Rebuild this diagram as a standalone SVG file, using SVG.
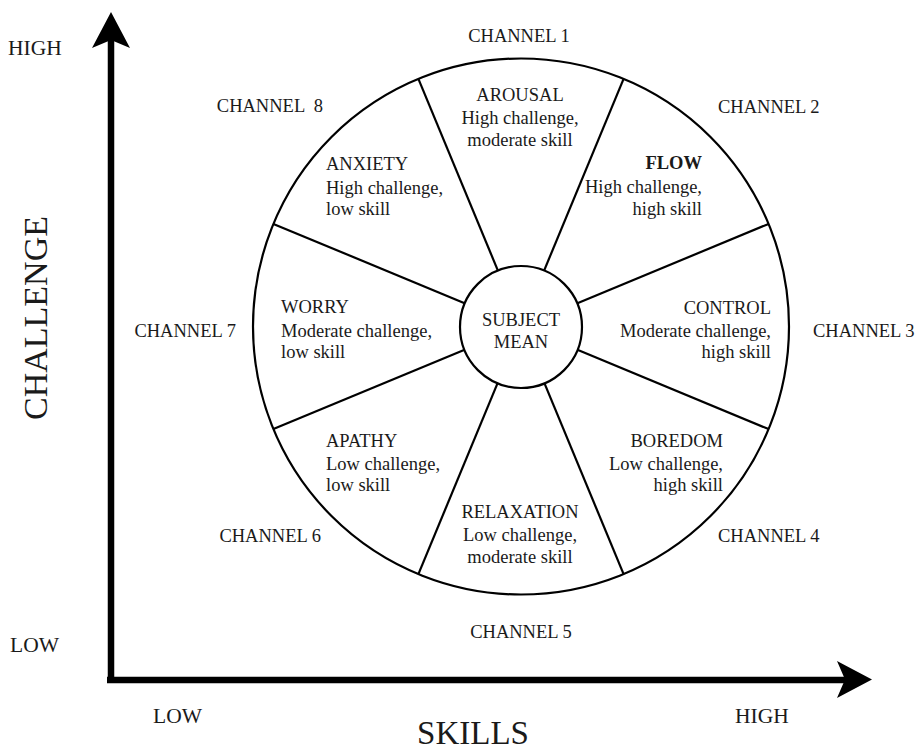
<svg xmlns="http://www.w3.org/2000/svg" width="918" height="751" viewBox="0 0 918 751">
<defs>
<style>
text{font-family:"Liberation Serif","Times New Roman",serif;fill:#1a1a1a;}
.t{font-size:18.5px;}
.ax{font-size:21.5px;}
.big{font-size:34px;}
.b{font-weight:bold;}
.m{text-anchor:middle;}
.e{text-anchor:end;}
.ln{stroke:#000;stroke-width:2.2;fill:none;}
.axis{stroke:#000;stroke-width:6.5;fill:none;}
</style>
</defs>
<rect width="918" height="751" fill="#fff"/>

<g id="axes">
<path class="axis" d="M111,683 V38"/>
<path class="axis" d="M107,680 H850"/>
<polygon points="111,12 130,48 111,40 92,48" fill="#000"/>
<polygon points="872,679.5 837,661 845,679.5 837,698" fill="#000"/>
</g>

<g id="wheel">
<circle class="ln" cx="521" cy="326.5" r="268" stroke-width="2.6"/>
</g>

<g id="connectors">
<line class="ln" x1="544.3" y1="270.1" x2="623.6" y2="78.9"/>
<line class="ln" x1="577.4" y1="303.2" x2="768.6" y2="223.9"/>
<line class="ln" x1="577.4" y1="349.8" x2="768.6" y2="429.1"/>
<line class="ln" x1="544.3" y1="382.9" x2="623.6" y2="574.1"/>
<line class="ln" x1="497.7" y1="382.9" x2="418.4" y2="574.1"/>
<line class="ln" x1="464.6" y1="349.8" x2="273.4" y2="429.1"/>
<line class="ln" x1="464.6" y1="303.2" x2="273.4" y2="223.9"/>
<line class="ln" x1="497.7" y1="270.1" x2="418.4" y2="78.9"/>
</g>

<g id="subject-mean">
<circle class="ln" cx="521" cy="327" r="61" fill="#fff"/>
<text class="t m" x="521" y="326">SUBJECT</text>
<text class="t m" x="521" y="348">MEAN</text>
</g>

<g id="arousal">
<text class="t m" x="520" y="101">AROUSAL</text>
<text class="t m" x="520" y="124">High challenge,</text>
<text class="t m" x="520" y="146">moderate skill</text>
</g>
<g id="flow">
<text class="t e b" x="702" y="169">FLOW</text>
<text class="t e" x="702" y="193">High challenge,</text>
<text class="t e" x="702" y="215">high skill</text>
</g>
<g id="control">
<text class="t e" x="771" y="314">CONTROL</text>
<text class="t e" x="771" y="337">Moderate challenge,</text>
<text class="t e" x="771" y="358">high skill</text>
</g>
<g id="boredom">
<text class="t e" x="723" y="447">BOREDOM</text>
<text class="t e" x="723" y="470">Low challenge,</text>
<text class="t e" x="723" y="491">high skill</text>
</g>
<g id="relaxation">
<text class="t m" x="520" y="518">RELAXATION</text>
<text class="t m" x="520" y="541">Low challenge,</text>
<text class="t m" x="520" y="563">moderate skill</text>
</g>
<g id="apathy">
<text class="t" x="326" y="447">APATHY</text>
<text class="t" x="326" y="470">Low challenge,</text>
<text class="t" x="326" y="491">low skill</text>
</g>
<g id="worry">
<text class="t" x="281" y="313">WORRY</text>
<text class="t" x="281" y="337">Moderate challenge,</text>
<text class="t" x="281" y="358">low skill</text>
</g>
<g id="anxiety">
<text class="t" x="326" y="170">ANXIETY</text>
<text class="t" x="326" y="194">High challenge,</text>
<text class="t" x="326" y="215">low skill</text>
</g>

<g id="channels">
<text class="t m" x="519" y="42">CHANNEL 1</text>
<text class="t" x="718" y="113">CHANNEL 2</text>
<text class="t" x="813" y="337">CHANNEL 3</text>
<text class="t" x="718" y="542">CHANNEL 4</text>
<text class="t m" x="521" y="638">CHANNEL 5</text>
<text class="t e" x="321" y="542">CHANNEL 6</text>
<text class="t e" x="236" y="337">CHANNEL 7</text>
<text class="t e" x="323" y="112" xml:space="preserve">CHANNEL  8</text>
</g>

<g id="labels">
<text class="ax" x="8" y="55">HIGH</text>
<text class="ax" x="10" y="652">LOW</text>
<text class="ax" x="153" y="723">LOW</text>
<text class="ax" x="735" y="723">HIGH</text>
<text class="m" x="473" y="744" style="font-size:33px">SKILLS</text>
<text class="big m" transform="translate(47,318) rotate(-90)" x="0" y="0">CHALLENGE</text>
</g>
</svg>
